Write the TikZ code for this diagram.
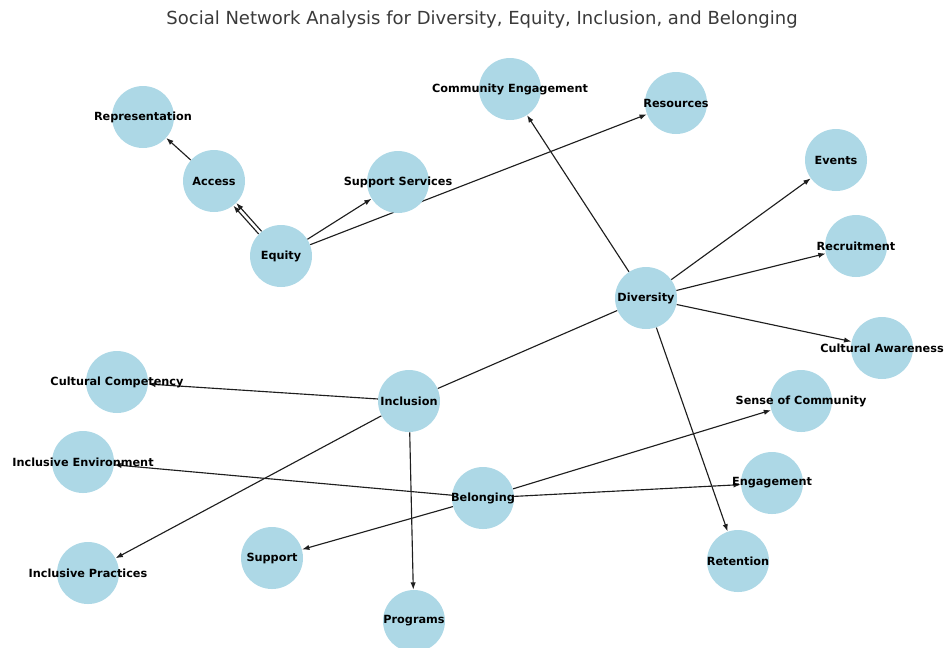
\documentclass[tikz,border=0pt]{standalone}
\usepackage{fontspec}
\setsansfont{DejaVu Sans}
\usepackage{tikz}
\usetikzlibrary{arrows.meta}
\usetikzlibrary{positioning}
\definecolor{nodeblue}{HTML}{ADD8E6}
\definecolor{titlegray}{HTML}{3A3A3A}
\definecolor{edgegray}{HTML}{1E1E1E}
\pgfdeclarelayer{bg}
\pgfsetlayers{bg,main}
\tikzset{>={Latex[length=5.5pt,width=4pt]}}
\tikzstyle{topic} = [circle, fill=nodeblue, minimum size=46.5pt, inner sep=0pt, font=\sffamily\bfseries\fontsize{8.45}{9.5}\selectfont]
\tikzstyle{link} = [->, draw=edgegray, line width=0.85pt]

\begin{document}
\begin{tikzpicture}[x=0.75pt, y=-0.75pt]
\useasboundingbox (0,0) rectangle (944,647);
\node [font=\sffamily\fontsize{13.5}{15}\selectfont, text=titlegray] (title) at (482, 20) {Social Network Analysis for Diversity, Equity, Inclusion, and Belonging};
% topics
\node [topic] (rep) at (143, 117) {\makebox[0pt]{Representation}};
\node [topic] (acc) at (214, 181) {\makebox[0pt]{Access}};
\node [topic] (eq) at (281, 256) {\makebox[0pt]{Equity}};
\node [topic] (sup) at (398, 182) {\makebox[0pt]{Support Services}};
\node [topic] (ceng) at (510, 89) {\makebox[0pt]{Community Engagement}};
\node [topic] (res) at (676, 103) {\makebox[0pt]{Resources}};
\node [topic] (evt) at (836, 160) {\makebox[0pt]{Events}};
\node [topic] (rec) at (856, 246) {\makebox[0pt]{Recruitment}};
\node [topic] (div) at (646, 298) {\makebox[0pt]{Diversity}};
\node [topic] (caw) at (882, 348) {\makebox[0pt]{Cultural Awareness}};
\node [topic] (ccomp) at (117, 382) {\makebox[0pt]{Cultural Competency}};
\node [topic] (inc) at (409, 401) {\makebox[0pt]{Inclusion}};
\node [topic] (soc) at (801, 401) {\makebox[0pt]{Sense of Community}};
\node [topic] (ienv) at (83, 462) {\makebox[0pt]{Inclusive Environment}};
\node [topic] (bel) at (483, 498) {\makebox[0pt]{Belonging}};
\node [topic] (eng) at (772, 483) {\makebox[0pt]{Engagement}};
\node [topic] (supp) at (272, 558) {\makebox[0pt]{Support}};
\node [topic] (ipr) at (88, 573) {\makebox[0pt]{Inclusive Practices}};
\node [topic] (ret) at (738, 561) {\makebox[0pt]{Retention}};
\node [topic] (prog) at (414, 621) {\makebox[0pt]{Programs}};
% links
\begin{pgfonlayer}{bg}
\draw [link, transform canvas={shift={(1.1pt,1pt)}}] (eq) to (acc);
\draw [link, transform canvas={shift={(-1.1pt,-1pt)}}] (eq) to (acc);
\draw [link] (acc) to (rep);
\draw [link] (eq) to (sup);
\draw [link] (eq) to (res);
\draw [link] (div) to (ceng);
\draw [link] (div) to (evt);
\draw [link] (div) to (rec);
\draw [link] (div) to (caw);
\draw [link] (div) to (ret);
\draw [link, -] (inc) to (div);
\draw [link] (inc) to (ccomp);
\draw [link] (inc) to (ipr);
\draw [link] (inc) to (prog);
\draw [link] (bel) to (ienv);
\draw [link] (bel) to (soc);
\draw [link] (bel) to (eng);
\draw [link] (bel) to (supp);
\end{pgfonlayer}
\end{tikzpicture}
\end{document}
